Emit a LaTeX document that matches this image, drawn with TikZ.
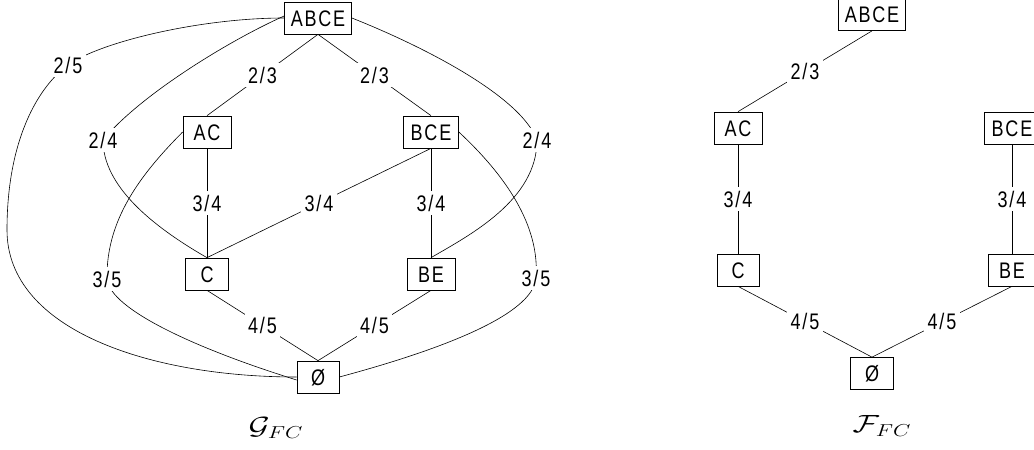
\documentclass[tikz,border=0pt]{standalone}
\usepackage{fontspec}
\setmainfont{Liberation Sans}
\newfontfamily\narrowsans[FakeStretch=0.8,LetterSpace=8]{Liberation Sans}
\begin{document}
\begin{tikzpicture}[x=1pt,y=-1pt,
  box/.style={draw, line width=0.7pt, minimum height=32pt, inner xsep=3pt, inner ysep=0pt,
    text height=16pt, text depth=0pt, font=\narrowsans\fontsize{22.5}{26}\selectfont},
  lab/.style={fill=white, inner sep=3.5pt, font=\narrowsans\fontsize{22.5}{26}\selectfont},
  edge/.style={line width=0.6pt},
  captxt/.style={inner sep=0pt, xscale=1.3, transform shape, font=\fontsize{24}{28}\selectfont}]
\useasboundingbox (0,0) rectangle (1034,450);

% left graph nodes
\node[box,minimum width=67pt] (Labce) at (318,18) {ABCE};
\node[box,minimum width=48pt] (Lac) at (207,132) {AC};
\node[box,minimum width=55pt] (Lbce) at (431,132) {BCE};
\node[box,minimum width=43pt] (Lc) at (207,274) {C};
\node[box,minimum width=48pt] (Lbe) at (431,274) {BE};
\node[box,minimum width=42pt] (Lo) at (318,377) {Ø};

% straight edges
\draw[edge] (Labce.south) -- node[lab]{2/3} (Lac.north);
\draw[edge] (Labce.south) -- node[lab]{2/3} (Lbce.north);
\draw[edge] (Lac.south) -- node[lab]{3/4} (Lc.north);
\draw[edge] (Lbce.south) -- node[lab]{3/4} (Lbe.north);
\draw[edge] (Lbce.south) -- node[lab]{3/4} (Lc.north);
\draw[edge] (Lc.south) -- node[lab]{4/5} (Lo.north);
\draw[edge] (Lbe.south) -- node[lab]{4/5} (Lo.north);

% curved edges
\coordinate (c25) at (68,65);
\coordinate (c24L) at (103,140);
\coordinate (c35L) at (107,279);
\coordinate (c24R) at (537,140);
\coordinate (c35R) at (536,278);
\coordinate (cl) at (7,230);

\draw[edge] (Labce.west) .. controls (200,18) and (100,42) .. (c25)
  .. controls (38,87) and (7,140) .. (cl)
  .. controls (7,330) and (150,377) .. (Lo.west);
\draw[edge] ([yshift=2pt]Labce.west) .. controls (230,40) and (140,95) .. (c24L)
  .. controls (103,185) and (150,225) .. (Lc.north);
\draw[edge] (Lac.west) .. controls (140,175) and (106,220) .. (c35L)
  .. controls (110,310) and (200,350) .. ([yshift=-3pt]Lo.west);
\draw[edge] (Labce.east) .. controls (420,45) and (520,95) .. (c24R)
  .. controls (537,200) and (470,235) .. (Lbe.north);
\draw[edge] (Lbce.east) .. controls (505,175) and (540,225) .. (c35R)
  .. controls (533,315) and (440,350) .. (Lo.east);

\node[lab] (l25) at (c25) {2/5};
\node[lab] (l24L) at (c24L) {2/4};
\node[lab] (l35L) at (c35L) {3/5};
\node[lab] (l24R) at (c24R) {2/4};
\node[lab] (l35R) at (c35R) {3/5};

% right graph
\node[box,minimum width=67pt] (Rabce) at (872,14.5) {ABCE};
\node[box,minimum width=48pt] (Rac) at (738,128) {AC};
\node[box,minimum width=56pt] (Rbce) at (1012,128) {BCE};
\node[box,minimum width=42pt] (Rc) at (738,270) {C};
\node[box,minimum width=48pt] (Rbe) at (1012,270) {BE};
\node[box,minimum width=43pt] (Ro) at (872,373.5) {Ø};

\draw[edge] (Rabce.south) -- node[lab]{2/3} (Rac.north);
\draw[edge] (Rac.south) -- node[lab]{3/4} (Rc.north);
\draw[edge] (Rbce.south) -- node[lab]{3/4} (Rbe.north);
\draw[edge] (Rc.south) -- node[lab]{4/5} (Ro.north);
\draw[edge] (Rbe.south) -- node[lab]{4/5} (Ro.north);

% captions
\node[captxt] (Gcap) at (276,428) {$\mathcal{G}_{FC}$};
\node[captxt] (Fcap) at (882,426) {$\mathcal{F}_{FC}$};
\end{tikzpicture}
\end{document}
